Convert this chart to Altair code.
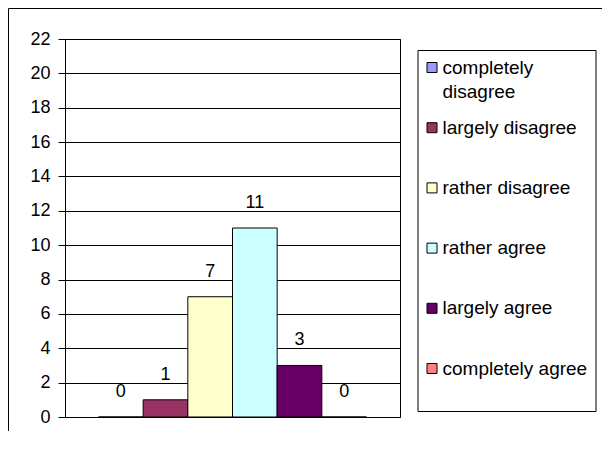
import altair as alt
import pandas as pd

categories = ["completely disagree", "largely disagree", "rather disagree",
              "rather agree", "largely agree", "completely agree"]
values = [0, 1, 7, 11, 3, 0]
colors = ["#9999FF", "#993366", "#FFFFCC", "#CCFFFF", "#660066", "#FF8080"]
y_ticks = list(range(0, 23, 2))

FONT = "Liberation Sans"

df = pd.DataFrame({"answer": categories, "count": values})

x_enc = alt.X("answer:N", sort=categories, axis=None,
              scale=alt.Scale(paddingInner=0, paddingOuter=0.75))
y_enc = alt.Y("count:Q", scale=alt.Scale(domain=[0, 22], nice=False),
              axis=alt.Axis(values=y_ticks, title=None, grid=True,
                            gridColor="black", gridWidth=1,
                            domainColor="black", tickColor="black", tickSize=7,
                            labelFont=FONT, labelFontSize=18, labelColor="black",
                            labelPadding=8))

first_label = "datum.label == 'completely disagree' ? ['completely', 'disagree'] : [datum.label, '']"

bars = alt.Chart(df).mark_bar(stroke="black", strokeWidth=1, opacity=1).encode(
    x=x_enc,
    y=y_enc,
    color=alt.Color("answer:N", sort=categories,
                    scale=alt.Scale(domain=categories, range=colors),
                    legend=alt.Legend(
                        title=None, orient="none", legendX=352.5, legendY=11,
                        direction="vertical", symbolType="square", symbolSize=100,
                        symbolStrokeColor="black", symbolStrokeWidth=1,
                        symbolOpacity=1, symbolOffset=-3,
                        labelFont=FONT, labelFontSize=19, labelColor="black",
                        labelOffset=1, labelLimit=300, labelExpr=first_label,
                        rowPadding=16.2, padding=8,
                        strokeColor="black", fillColor="white",
                    )),
)

labels = alt.Chart(df).mark_text(font=FONT, fontSize=18, baseline="alphabetic",
                                 dy=-20, color="black").encode(
    x=x_enc, y=y_enc, text="count:Q")

frame = alt.Chart(pd.DataFrame({"f": [0]})).mark_rect(
    fill="transparent", stroke="black", strokeWidth=1).encode(
    x=alt.value(-56.5), y=alt.value(-30.5), x2=alt.value(700), y2=alt.value(600))

chart = alt.layer(bars, labels, frame).properties(
    width=335, height=378,
    padding={"left": 57, "top": 31, "right": 202, "bottom": 14},
    autosize=alt.AutoSizeParams(type="none"),
    background="white",
).configure(
    style={"guide-label": {"lineHeight": 24}},
    view=alt.ViewConfig(stroke="black", strokeWidth=1),
)

chart.save("out.html", embed_options={"renderer": "svg", "actions": False})
